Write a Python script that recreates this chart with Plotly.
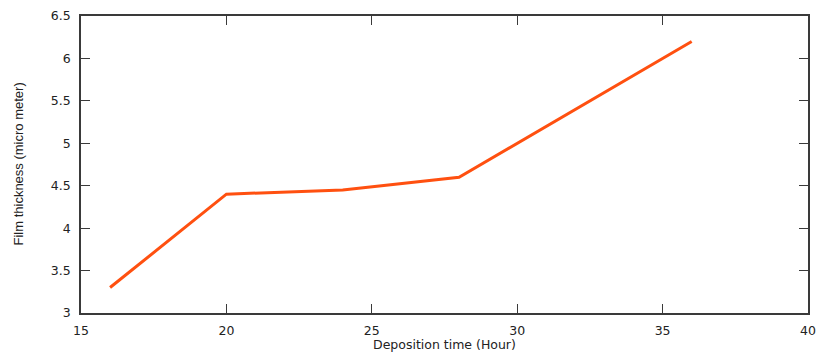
import plotly.graph_objects as go

hours = [16, 20, 24, 28, 36]
thickness = [3.3, 4.4, 4.45, 4.6, 6.2]
x_ticks = [15, 20, 25, 30, 35, 40]
y_ticks = [3, 3.5, 4, 4.5, 5, 5.5, 6, 6.5]

fig = go.Figure()
fig.add_trace(go.Scatter(x=hours, y=thickness, mode="lines",
                         line=dict(color="#FF5010", width=3)))

axis_common = dict(showgrid=False, zeroline=False, showline=True, linecolor="#3a3a3a",
                   linewidth=1.5, mirror="ticks", ticks="inside", ticklen=9,
                   tickcolor="#3a3a3a", tickwidth=1, automargin=False,
                   tickfont=dict(family="DejaVu Sans", size=12.5, color="#222222"))

fig.update_layout(
    width=819, height=357,
    margin=dict(l=81, r=11, t=16, b=44),
    paper_bgcolor="white", plot_bgcolor="white",
    showlegend=False,
    xaxis=dict(range=[15, 40], tickvals=x_ticks, ticktext=[str(v) for v in x_ticks],
               ticklabelstandoff=5, **axis_common),
    yaxis=dict(range=[3, 6.5], tickvals=y_ticks, ticktext=[f"{v:g}" for v in y_ticks],
               ticklabelstandoff=6, **axis_common),
    annotations=[
        dict(text="Deposition time (Hour)", xref="paper", yref="paper",
             x=0.5, y=0, yshift=-22, xanchor="center", yanchor="top", showarrow=False,
             font=dict(family="DejaVu Sans", size=12.5, color="#222222")),
        dict(text="Film thickness (micro meter)", xref="paper", yref="paper",
             x=0, y=0.5, xshift=-63, xanchor="center", yanchor="middle", showarrow=False,
             textangle=-90,
             font=dict(family="Liberation Sans", size=13, color="#222222")),
    ],
)

fig.write_html("out.html", config={"displayModeBar": False},
               post_script="document.body.style.margin='0';document.body.style.padding='0';")
